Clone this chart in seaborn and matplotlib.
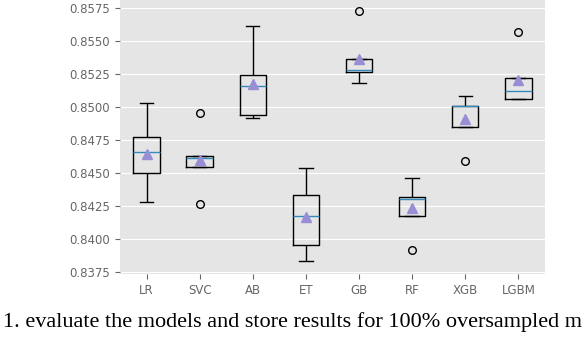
import matplotlib
matplotlib.use("Agg")
import matplotlib.pyplot as plt
import seaborn as sns
import pandas as pd

models = ["LR", "SVC", "AB", "ET", "GB", "RF", "XGB", "LGBM"]
lr = [0.8428, 0.8450, 0.8466, 0.8477, 0.8503]
svc = [0.84263, 0.84543, 0.84611, 0.84626, 0.84955]
ab = [0.84917, 0.84937, 0.85157, 0.85242, 0.85611]
et = [0.83831, 0.83952, 0.84174, 0.84336, 0.84540]
gb = [0.85179, 0.85267, 0.85283, 0.85361, 0.85730]
rf = [0.83917, 0.84174, 0.84301, 0.84321, 0.84464]
xgb = [0.84590, 0.84851, 0.85010, 0.85010, 0.85081]
lgbm = [0.85063, 0.85063, 0.85119, 0.85222, 0.85570]
yticks = [0.8375, 0.8400, 0.8425, 0.8450, 0.8475, 0.8500, 0.8525, 0.8550, 0.8575]
caption = "1. evaluate the models and store results for 100% oversampled m"

scores = [lr, svc, ab, et, gb, rf, xgb, lgbm]
rows = []
for m, vals in zip(models, scores):
    for v in vals:
        rows.append({"model": m, "score": v})
df = pd.DataFrame(rows)

plt.style.use("ggplot")
fig = plt.figure(figsize=(5.84, 3.46), dpi=100)
ax = fig.add_axes([0.2055, 0.208, 0.7275, 0.792])

sns.boxplot(
    data=df, x="model", y="score", order=models, ax=ax,
    fill=False, color="black", width=0.5, linewidth=1.0,
    showmeans=True,
    medianprops=dict(color="#348ABD", linewidth=1.0),
    meanprops=dict(marker="^", markerfacecolor="#988ED5",
                   markeredgecolor="#988ED5", markersize=6.5),
    flierprops=dict(marker="o", markerfacecolor="none",
                    markeredgecolor="black", markersize=5.5),
    whiskerprops=dict(color="black"),
    capprops=dict(color="black"),
    boxprops=dict(color="black"),
)

ax.set_ylim(0.83735, 0.85811)
ax.set_xlim(-0.5, 7.5)
ax.set_yticks(yticks)
ax.set_yticklabels([f"{t:.4f}" for t in yticks])
ax.set_xlabel("")
ax.set_ylabel("")
ax.tick_params(axis="both", labelsize=8.5, colors="#666666")
for s in ax.spines.values():
    s.set_visible(False)

fig.text(0.005, 0.055, caption, fontsize=16, family="Liberation Serif",
         ha="left", va="baseline", color="black")

fig.savefig("out.png", dpi=100)
